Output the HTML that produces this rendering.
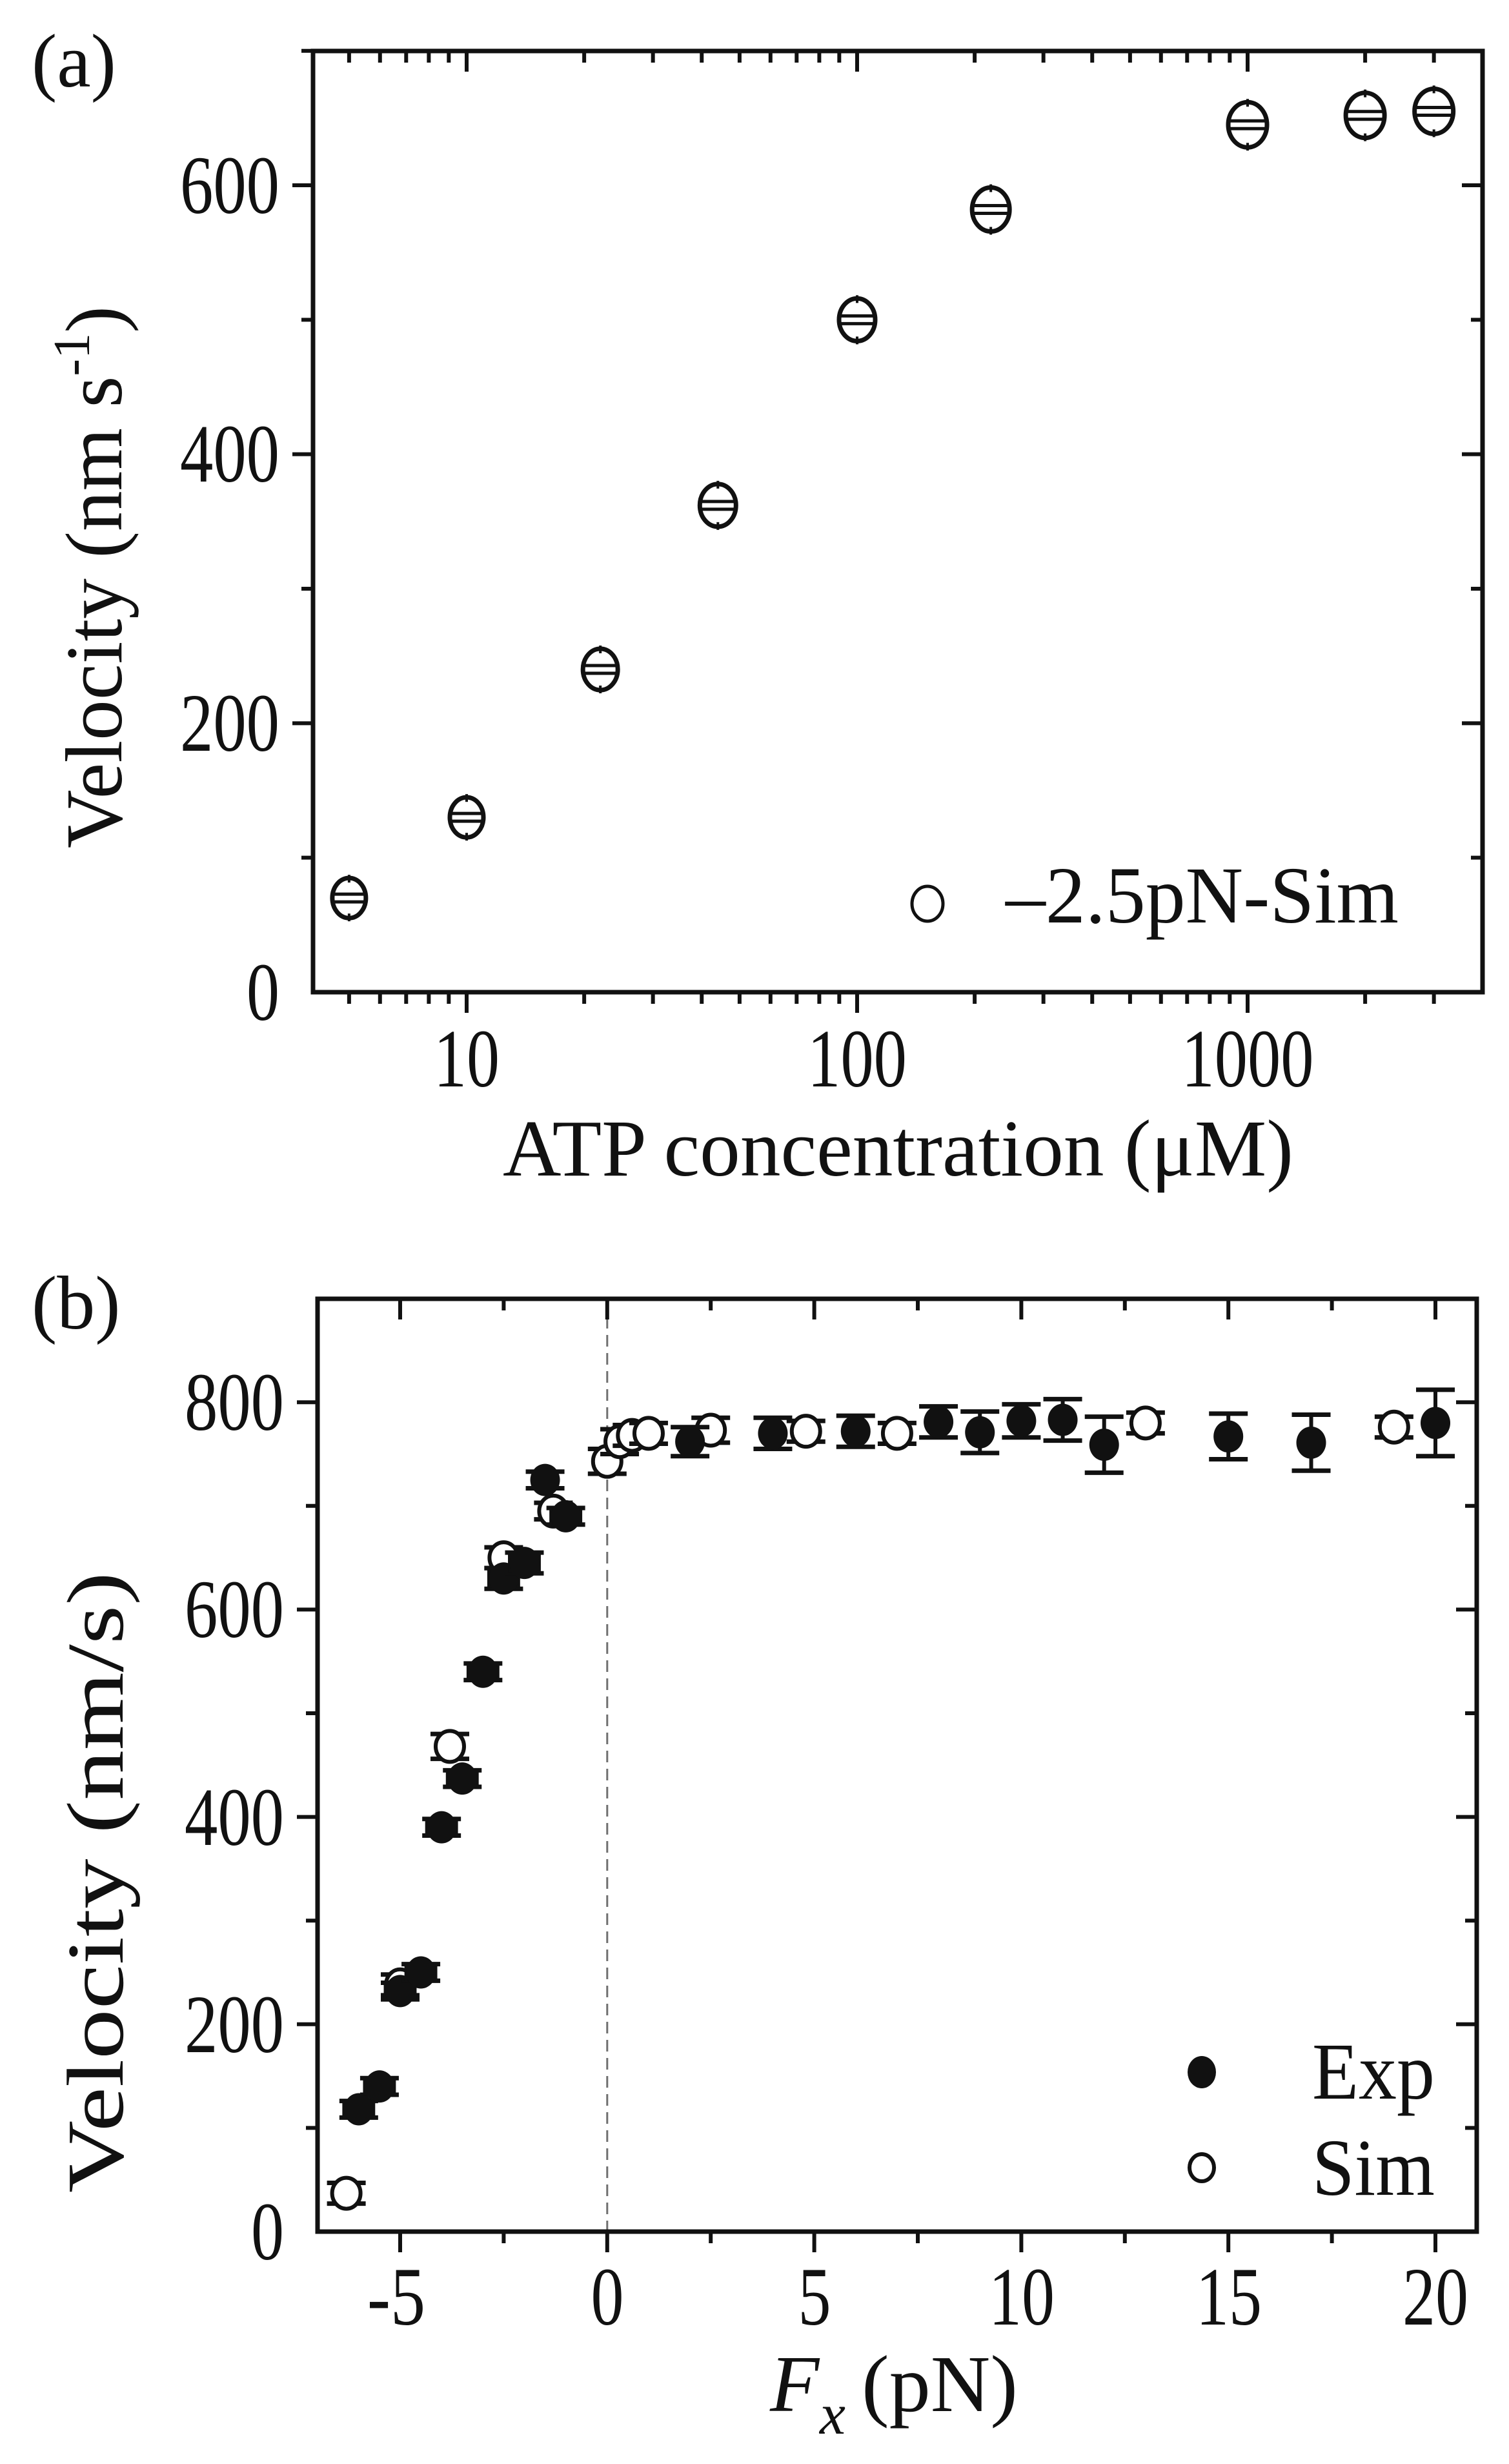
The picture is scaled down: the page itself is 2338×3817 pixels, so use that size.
<!DOCTYPE html>
<html><head><meta charset="utf-8"><style>
html,body{margin:0;padding:0;background:#fff}
svg{display:block}
text{font-family:"Liberation Serif",serif;fill:#111}
</style></head><body>
<svg id="s" width="2338" height="3817" viewBox="0 0 2338 3817" xmlns="http://www.w3.org/2000/svg">
<rect width="2338" height="3817" fill="#fff"/>
<g id="g"></g>
<text x="49" y="134" font-size="118">(a)</text>
<g font-size="128" text-anchor="end">
<text x="433" y="1580" textLength="51" lengthAdjust="spacingAndGlyphs">0</text>
<text x="433" y="1163" textLength="154" lengthAdjust="spacingAndGlyphs">200</text>
<text x="433" y="746" textLength="154" lengthAdjust="spacingAndGlyphs">400</text>
<text x="433" y="330" textLength="154" lengthAdjust="spacingAndGlyphs">600</text>
</g>
<g font-size="128" text-anchor="middle">
<text x="723" y="1683" textLength="102" lengthAdjust="spacingAndGlyphs">10</text>
<text x="1328" y="1683" textLength="154" lengthAdjust="spacingAndGlyphs">100</text>
<text x="1933" y="1683" textLength="205" lengthAdjust="spacingAndGlyphs">1000</text>
</g>
<text x="779" y="1821" font-size="125" textLength="1225" lengthAdjust="spacingAndGlyphs">ATP concentration (μM)</text>
<text transform="translate(188,1314) rotate(-90)" font-size="125" textLength="840" lengthAdjust="spacingAndGlyphs">Velocity (nm s<tspan font-size="80" dy="-50">-1</tspan><tspan dy="50">)</tspan></text>
<text x="1558" y="1429" font-size="125" textLength="609" lengthAdjust="spacingAndGlyphs">–2.5pN-Sim</text>
<text x="49" y="2058" font-size="118">(b)</text>
<g font-size="128" text-anchor="end">
<text x="440" y="3500" textLength="51" lengthAdjust="spacingAndGlyphs">0</text>
<text x="440" y="3179" textLength="154" lengthAdjust="spacingAndGlyphs">200</text>
<text x="440" y="2858" textLength="154" lengthAdjust="spacingAndGlyphs">400</text>
<text x="440" y="2536" textLength="154" lengthAdjust="spacingAndGlyphs">600</text>
<text x="440" y="2215" textLength="154" lengthAdjust="spacingAndGlyphs">800</text>
</g>
<g font-size="128" text-anchor="middle">
<text x="614" y="3601" textLength="90" lengthAdjust="spacingAndGlyphs">-5</text>
<text x="941" y="3601" textLength="51" lengthAdjust="spacingAndGlyphs">0</text>
<text x="1262" y="3601" textLength="51" lengthAdjust="spacingAndGlyphs">5</text>
<text x="1583" y="3601" textLength="102" lengthAdjust="spacingAndGlyphs">10</text>
<text x="1904" y="3601" textLength="102" lengthAdjust="spacingAndGlyphs">15</text>
<text x="2224" y="3601" textLength="102" lengthAdjust="spacingAndGlyphs">20</text>
</g>
<text x="1193" y="3735" font-size="125" font-style="italic">F</text>
<text x="1270" y="3770" font-size="90" font-style="italic">x</text>
<text x="1335" y="3735" font-size="125" textLength="242" lengthAdjust="spacingAndGlyphs">(pN)</text>
<text transform="translate(190,3397) rotate(-90)" font-size="125" textLength="962" lengthAdjust="spacingAndGlyphs">Velocity (nm/s)</text>
<text x="2033" y="3251" font-size="125" textLength="190" lengthAdjust="spacingAndGlyphs">Exp</text>
<text x="2033" y="3400" font-size="125" textLength="190" lengthAdjust="spacingAndGlyphs">Sim</text>
</svg>
<script>
var g=document.getElementById('g'),h='';
function L(x1,y1,x2,y2,w,extra){h+='<line x1="'+x1+'" y1="'+y1+'" x2="'+x2+'" y2="'+y2+'" stroke="#111" stroke-width="'+(w||6)+'" '+(extra||'')+'/>';}
var aL=485,aR=2297,aT=79,aB=1537;
function ax(v){return 723+605*Math.log10(v/10);}
function ay(v){return aB-v*2.0833;}
for(var d=1;d<=1000;d*=10){for(var k=1;k<=9;k++){var v=d*k,x=ax(v);if(x<aL+2||x>aR-2)continue;var maj=(k==1);
 L(x,aB,x,aB+(maj?32:18),6);L(x,aT,x,aT+(maj?32:18),6);}}
for(var v=100;v<=700;v+=100){var y=ay(v);var maj=(v%200==0);L(aL-(maj?32:18),y,aL,y,6);L(aR-(maj?32:18),y,aR,y,6);}
h+='<rect x="'+aL+'" y="'+aT+'" width="'+(aR-aL)+'" height="'+(aB-aT)+'" fill="none" stroke="#111" stroke-width="7"/>';
var A=[[5,70,26],[10,130,26],[22,240,27],[44,362,28],[100,500,28],[220,582,29],[1000,645,30],[2000,652,30],[3000,655,30]];
A.forEach(function(p){var x=ax(p[0]),y=ay(p[1]),r=p[2];
 h+='<ellipse cx="'+x+'" cy="'+y+'" rx="'+r+'" ry="'+(r+5)+'" fill="#fff" stroke="#111" stroke-width="7"/>';
 L(x-r,y-6,x+r,y-6,5);L(x-r,y+6,x+r,y+6,5);L(x,y-r-10,x,y-r+2,4);L(x,y+r-2,x,y+r+10,4);});
h+='<ellipse cx="1437" cy="1400" rx="24" ry="27" fill="#fff" stroke="#111" stroke-width="5"/>';
var bL=492,bR=2288,bT=2012,bB=3457;
function bx(f){return 940.8+64.16*f;}
function by(v){return bB-1.606*v;}
for(var f=-5;f<=20;f+=2.5){var x=bx(f),maj=(f%5==0);L(x,bB,x,bB+(maj?32:18),6);L(x,bT,x,bT+(maj?32:18),6);}
for(var v=100;v<=800;v+=100){var y=by(v),maj=(v%200==0);L(bL-(maj?32:18),y,bL,y,6);L(bR-(maj?32:18),y,bR,y,6);}
L(bx(0),bT,bx(0),bB,3,'stroke-dasharray="18,10" stroke-opacity="0.6"');
h+='<rect x="'+bL+'" y="'+bT+'" width="'+(bR-bL)+'" height="'+(bB-bT)+'" fill="none" stroke="#111" stroke-width="7"/>';
function eb(x,y,ex,ey){
 if(ey>0){L(x,y-ey,x,y+ey,6);L(x-30,y-ey,x+30,y-ey,7);L(x-30,y+ey,x+30,y+ey,7);}
 if(ex>0){L(x-ex,y,x+ex,y,6);L(x-ex,y-14,x-ex,y+14,6);L(x+ex,y-14,x+ex,y+14,6);}}
var E=[[-6,118,8,.35],[-5.5,140,8,.35],[-5,232,8,.35],[-4.5,250,8,.35],[-4,390,8,.35],[-3.5,437,8,.35],[-3,540,8,.35],[-2.5,630,10,.35],[-2,645,10,.35],[-1.5,725,8,.2],[-1,690,8,.35],
[2,762,14,0],[4,770,15,0],[6,772,15,0],[8,781,15,0],[9,771,20,0],[10,782,16,0],[11,783,20,0],[12,759,27,0],[15,767,22,0],[17,761,27,0],[20,780,32,0]];
var S=[[-6.3,37,10,.3],[-5,238,10,.3],[-3.8,468,12,0],[-2.5,650,10,.2],[-1.3,695,8,.3],[0,743,12,.2],[0.3,762,12,.2],[0.6,768,10,.2],[1,770,10,.2],[2.5,773,12,.2],[4.8,772,10,.2],[7,770,10,.2],[13,780,10,.2],[19,776,10,.2]];
S.forEach(function(p){var x=bx(p[0]),y=by(p[1]);eb(x,y,p[3]*64.16,p[2]*1.606);
 h+='<ellipse cx="'+x+'" cy="'+y+'" rx="22" ry="24" fill="#fff" stroke="#111" stroke-width="6"/>';});
E.forEach(function(p){var x=bx(p[0]),y=by(p[1]);eb(x,y,p[3]*64.16,p[2]*1.606);
 h+='<ellipse cx="'+x+'" cy="'+y+'" rx="23" ry="25" fill="#111"/>';});
h+='<ellipse cx="1862" cy="3210" rx="22" ry="25" fill="#111"/>';
h+='<ellipse cx="1862" cy="3358" rx="19" ry="21" fill="#fff" stroke="#111" stroke-width="6"/>';
g.innerHTML=h;
</script>
</body></html>
